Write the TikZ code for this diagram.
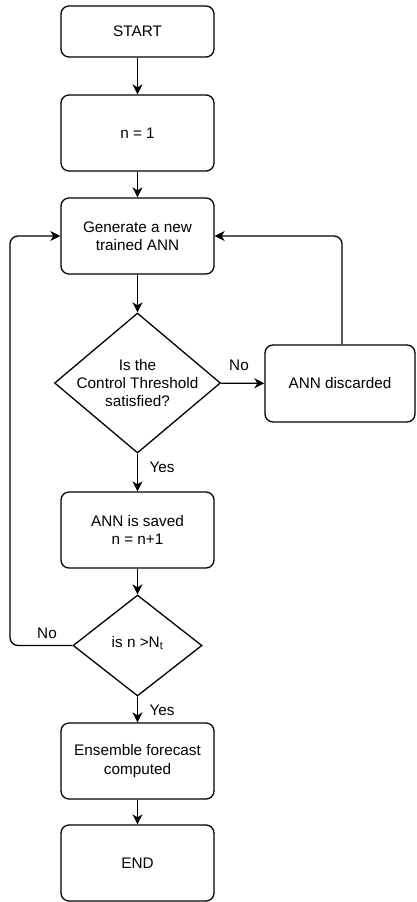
\documentclass[tikz,border=0pt]{standalone}
\usepackage{fontspec}
\setmainfont{Liberation Sans}
\usetikzlibrary{shapes.geometric,arrows.meta}
\begin{document}
\begin{tikzpicture}[x=1pt,y=-1pt,
  font=\fontsize{15.3pt}{18.3pt}\selectfont,
  box/.style={draw, line width=1.3pt, rounded corners=8pt, minimum width=153pt, minimum height=76pt, align=center, inner sep=0pt},
  dia/.style={draw, line width=1.3pt, diamond, inner sep=0pt},
  arr/.style={draw, line width=1.3pt, -{Stealth[length=10pt,width=10pt,inset=3pt]}},
  lab/.style={inner sep=0pt}]
\useasboundingbox (0,0) rectangle (416,902);
\node[box, minimum height=51pt] (start) at (137.5,31.5) {START};
\node[box] (n1) at (137.5,133) {n = 1};
\node[box] (gen) at (137.5,236) {Generate a new\\trained ANN};
\node[dia, minimum width=166pt, minimum height=140pt] (d1) at (137.5,383) {};
\node[align=center, inner sep=0pt] (d1t) at (d1.center) {Is the\\Control Threshold\\satisfied?};
\node[box, minimum width=150pt, minimum height=77pt] (disc) at (340,383.5) {ANN discarded};
\node[box] (save) at (137.5,530) {ANN is saved\\n = n+1};
\node[dia, minimum width=129pt, minimum height=101pt] (d2) at (137.5,645.5) {};
\node[inner sep=0pt] (d2t) at (137.5,643) {is n >N\textsubscript{t}};
\node[box] (ens) at (137.5,761) {Ensemble forecast\\computed};
\node[box] (end) at (137.5,863) {END};
\coordinate (lx) at (10,236);
\coordinate (rx) at (342,236);
\draw[arr] (start) -- (n1);
\draw[arr] (n1) -- (gen);
\draw[arr] (gen) -- (d1);
\draw[arr] (d1) -- (save);
\draw[arr] (d1) -- (disc);
\draw[arr] (save) -- (d2);
\draw[arr] (d2) -- (ens);
\draw[arr] (ens) -- (end);
\draw[arr, rounded corners=8pt] (d2.west) -| (lx) -- (gen.west);
\draw[arr, rounded corners=8pt] (disc.north -| rx) -- (rx) -- (gen.east);
\node[lab] (no1) at (239,365) {No};
\node[lab] (yes1) at (162,467) {Yes};
\node[lab] (no2) at (47,633) {No};
\node[lab] (yes2) at (162,710) {Yes};
\end{tikzpicture}
\end{document}
